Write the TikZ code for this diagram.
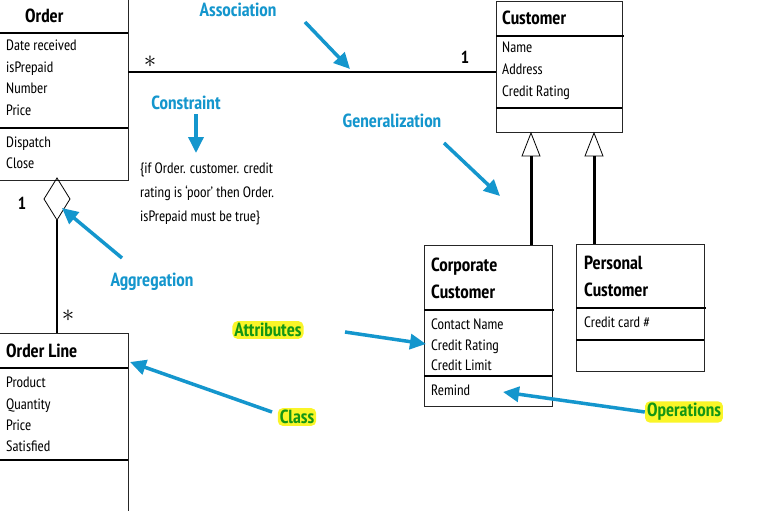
\documentclass[tikz,border=0pt]{standalone}
\usepackage{fontspec}
\setmainfont{PT Sans Narrow}
\usetikzlibrary{arrows.meta}
\definecolor{ab}{RGB}{20,150,205}
\definecolor{lg}{RGB}{20,150,20}
\definecolor{hy}{RGB}{250,245,40}
\begin{document}
\begin{tikzpicture}[x=1pt,y=-1pt,
 box/.style={draw=black!85,line width=1pt},
 sep/.style={line width=1.4pt},
 attr/.style={anchor=base west,yshift=-5pt,font=\fontsize{15}{16}\selectfont,inner sep=0pt},
 title/.style={anchor=west,font=\bfseries\fontsize{19}{27}\selectfont,inner sep=0pt,align=left},
 lab/.style={text=ab,font=\bfseries\fontsize{19}{20}\selectfont,inner sep=1pt},
 hl/.style={text=lg,fill=hy,rounded corners=5pt,font=\bfseries\fontsize{19}{20}\selectfont,inner sep=2pt},
 arr/.style={draw=ab,line width=3.5pt,-{Triangle[length=16pt,width=15pt]}}]
\useasboundingbox (0,0) rectangle (761,511);
\fill[white] (0,0) rectangle (761,511);
% Order
\draw[box] (-2,-2) rectangle (128,180);
\draw[sep] (0,33)--(128,33) (0,128)--(128,128);
\node[title] (ordn) at (25,16) {Order};
\node[attr] (o1) at (6,46) {Date received};
\node[attr] (o2) at (6,68) {isPrepaid};
\node[attr] (o3) at (6,89) {Number};
\node[attr] (o4) at (6,110) {Price};
\node[attr] (o5) at (6,142) {Dispatch};
\node[attr] (o6) at (6,163) {Close};
% Customer
\draw[box] (496,2) rectangle (622,132);
\draw[sep] (496,36)--(624,36) (496,108)--(622,108);
\node[title] (cn) at (502,18) {Customer};
\node[attr] (c1) at (502,48) {Name};
\node[attr] (c2) at (502,70) {Address};
\node[attr] (c3) at (502,92) {Credit Rating};
% Corporate
\draw[box] (424,245) rectangle (552,406);
\draw[sep] (424,310)--(554,310) (424,376)--(552,376);
\node[title] (ccn) at (431,278) {Corporate\\Customer};
\node[attr] (cc1) at (431,324) {Contact Name};
\node[attr] (cc2) at (431,345) {Credit Rating};
\node[attr] (cc3) at (431,365) {Credit Limit};
\node[attr] (cc4) at (431,390) {Remind};
% Personal
\draw[box] (576,244) rectangle (704,371);
\draw[sep] (576,308)--(706,308) (576,340)--(704,340);
\node[title] (pcn) at (584,276) {Personal\\Customer};
\node[attr] (pc1) at (584,322) {Credit card \#};
% Order Line
\draw[box] (-2,333) rectangle (128,513);
\draw[sep] (0,368)--(128,368) (0,460)--(128,460);
\node[title] (oln) at (6,351) {Order Line};
\node[attr] (l1) at (6,382) {Product};
\node[attr] (l2) at (6,404) {Quantity};
\node[attr] (l3) at (6,425) {Price};
\node[attr] (l4) at (6,446) {Satisfied};
% association
\coordinate (aL) at (128,72); \coordinate (aR) at (496,72);
\draw[line width=1.4pt] (aL)--(aR);
\node[font=\Huge\bfseries] (s1) at (150,62) {$\ast$};
\node[font=\LARGE\bfseries] (m1) at (465,57) {1};
% aggregation
\coordinate (dT) at (57,178); \coordinate (dB) at (57,220);
\draw[line width=0.8pt] (dT)--(70,199)--(dB)--(44,199)--cycle;
\coordinate (olT) at (57,333);
\draw[line width=1.4pt] (dB)--(olT);
\node[font=\LARGE\bfseries] (m2) at (22,203) {1};
\node[font=\Huge\bfseries] (s2) at (68,316) {$\ast$};
% generalization
\foreach \x/\n/\y in {531/g1/245,594/g2/244}{
 \draw[line width=0.8pt,fill=white] (\x,133)--(\x+9,156)--(\x-9,156)--cycle;
 \draw[line width=3pt] (\x,156)--(\x,\y);}
% constraint
\node[anchor=north west,align=left,font=\fontsize{15}{24}\selectfont,inner sep=0pt] (con) at (140,163) {\{if Order. customer. credit\\rating is `poor' then Order.\\isPrepaid must be true\}};
% labels
\node[lab] (Las) at (238,10) {Association};
\node[lab] (Lco) at (186,103) {Constraint};
\node[lab] (Lge) at (392,121) {Generalization};
\node[lab] (Lag) at (152,282) {Aggregation};
\node[hl] (Lat) at (268,330) {Attributes};
\node[hl] (Lcl) at (297,417) {Class};
\node[hl] (Lop) at (684,412) {Operations};
\coordinate (t1) at (350,69); \coordinate (t2) at (196,153);
\coordinate (t3) at (500,196); \coordinate (t4) at (62,208);
\coordinate (t5) at (426,344); \coordinate (t6) at (130,362);
\coordinate (t7) at (503,392);
\draw[arr] (305,22)--(t1);
\draw[arr] (196,114)--(t2);
\draw[arr] (444,143)--(t3);
\draw[arr] (122,258)--(t4);
\draw[arr] (345,332)--(t5);
\draw[arr] (272,412)--(t6);
\draw[arr] (Lop.west)--(t7);
\end{tikzpicture}
\end{document}
